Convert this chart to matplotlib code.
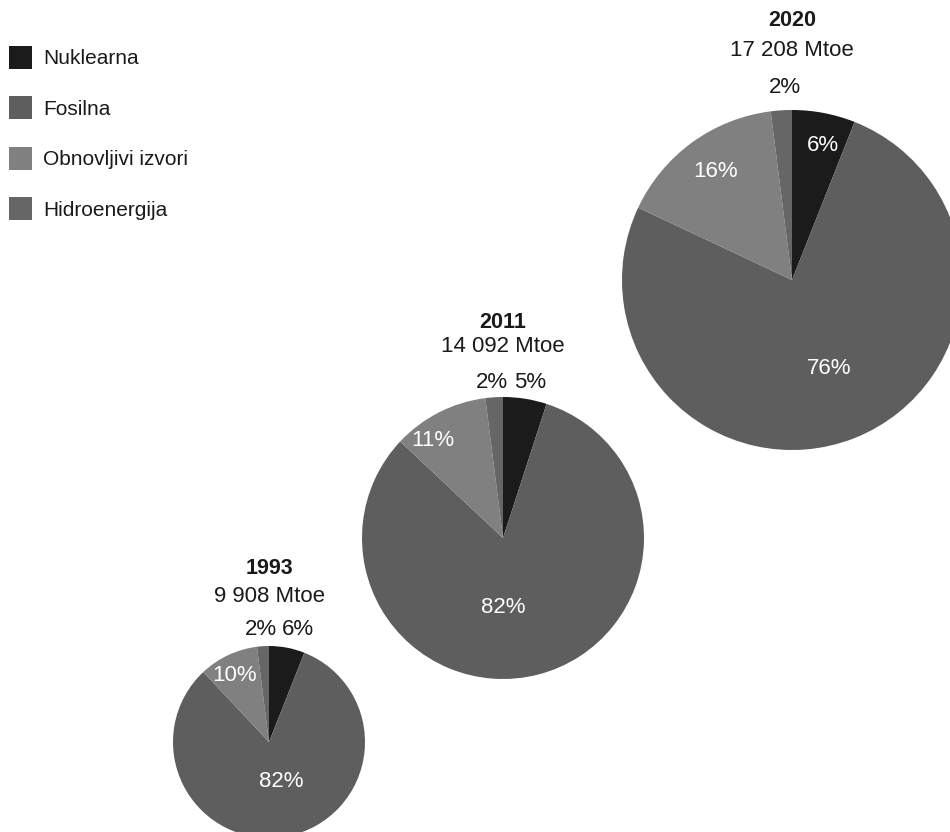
import matplotlib
matplotlib.use("Agg")
import matplotlib.pyplot as plt
from matplotlib.patches import Patch

# data
sources = ["Nuklearna", "Fosilna", "Obnovljivi izvori", "Hidroenergija"]
years = ["1993", "2011", "2020"]
totals = ["9 908 Mtoe", "14 092 Mtoe", "17 208 Mtoe"]
shares_1993 = [6, 82, 10, 2]
shares_2011 = [5, 82, 11, 2]
shares_2020 = [6, 76, 16, 2]

colors = ["#1b1b1b", "#5e5e5e", "#808080", "#666666"]

# layout in pixel units (y measured from top)
centers = [(269, 742), (503, 538), (792, 280)]
radii = [96, 141, 170]
title_y = [569, 322, 21]
total_y = [596, 347, 50]
# label offsets in units of radius, and whether label is white (inside)
label_pos = [
    [(0.30, 1.17), (0.125, -0.41), (-0.36, 0.69), (-0.08, 1.17)],
    [(0.19, 1.10), (0.0, -0.49), (-0.50, 0.69), (-0.08, 1.10)],
    [(0.18, 0.79), (0.22, -0.52), (-0.45, 0.64), (-0.04, 1.13)],
]
label_white = [
    [False, True, True, False],
    [False, True, True, False],
    [True, True, True, False],
]

W, H = 950, 832
fig = plt.figure(figsize=(9.5, 8.32), dpi=100)
ax = fig.add_axes([0, 0, 1, 1])

font = "Liberation Sans"
all_shares = [shares_1993, shares_2011, shares_2020]
for i, shares in enumerate(all_shares):
    cx, cy = centers[i]
    r = radii[i]
    ax.pie(shares, colors=colors, startangle=90, counterclock=False,
           center=(cx, H - cy), radius=r, frame=True,
           wedgeprops=dict(linewidth=0))
    for j, v in enumerate(shares):
        dx, dy = label_pos[i][j]
        ax.text(cx + dx * r, H - cy + dy * r, f"{v}%", ha="center", va="center",
                fontsize=16, family=font,
                color="white" if label_white[i][j] else "#1a1a1a")
    ax.text(cx, H - title_y[i], years[i], ha="center", va="center",
            fontsize=15.5, fontweight="bold", family=font, color="#1a1a1a")
    ax.text(cx, H - total_y[i], totals[i], ha="center", va="center",
            fontsize=16, family=font, color="#1a1a1a")

ax.set_xlim(0, W)
ax.set_ylim(0, H)
ax.set_aspect("equal")
ax.axis("off")

handles = [Patch(facecolor=c, edgecolor="none") for c in colors]
leg = fig.legend(handles, sources, loc="upper left",
                 bbox_to_anchor=(9 / W, 1 - 46 / H), frameon=False,
                 prop=dict(family=font, size=15),
                 handlelength=1.1, handleheight=1.3, handletextpad=0.55,
                 labelspacing=1.33, borderaxespad=0, borderpad=0)
for t in leg.get_texts():
    t.set_color("#1a1a1a")

fig.savefig("out.png", dpi=100)
